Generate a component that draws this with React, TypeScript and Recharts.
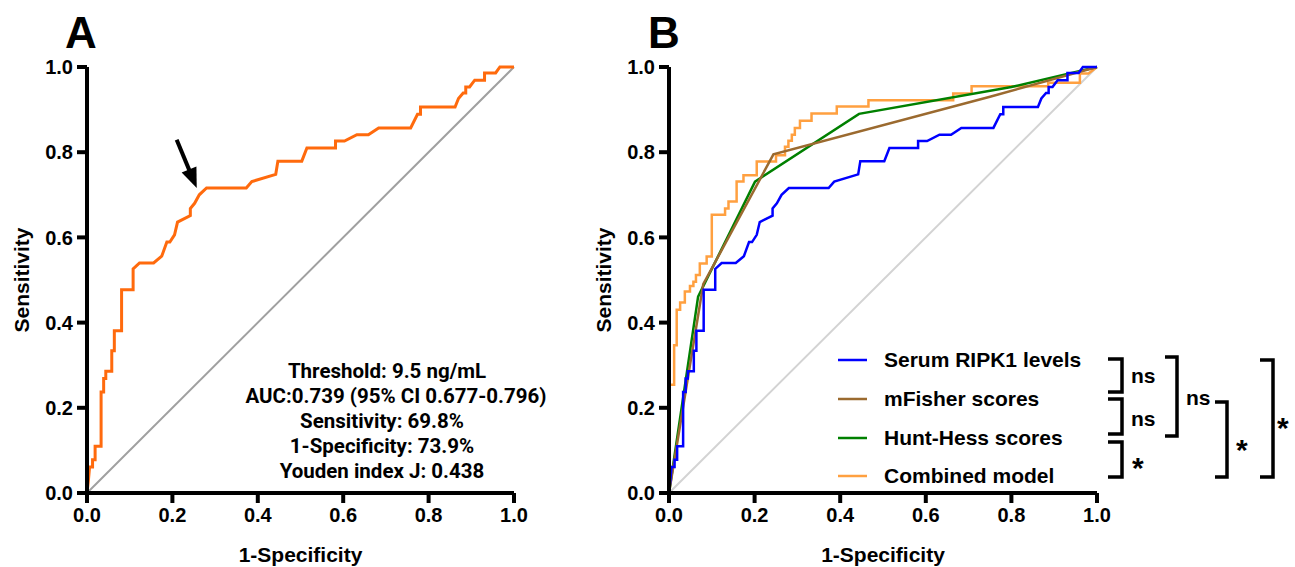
import React from 'react';
import { LineChart, Line, XAxis, YAxis, ReferenceLine, Legend, Customized } from 'recharts';

const axisTicks = [0, 0.2, 0.4, 0.6, 0.8, 1.0];

// Serum RIPK1 ROC curve (1-specificity, sensitivity)
const ripk1Fpr = [0, 0.003, 0.006, 0.013, 0.013, 0.019, 0.019, 0.033, 0.033, 0.039, 0.039, 0.044, 0.044, 0.058, 0.058, 0.064, 0.064, 0.081, 0.081, 0.108, 0.108, 0.123, 0.156, 0.175, 0.187, 0.194, 0.205, 0.212, 0.242, 0.242, 0.252, 0.263, 0.280, 0.373, 0.386, 0.442, 0.447, 0.503, 0.515, 0.582, 0.582, 0.603, 0.632, 0.659, 0.683, 0.758, 0.774, 0.781, 0.781, 0.862, 0.870, 0.881, 0.887, 0.887, 0.896, 0.908, 0.931, 0.931, 0.957, 0.967, 1.0];
const ripk1Tpr = [0, 0.027, 0.061, 0.061, 0.078, 0.078, 0.110, 0.110, 0.237, 0.237, 0.269, 0.269, 0.286, 0.286, 0.334, 0.334, 0.381, 0.381, 0.477, 0.477, 0.526, 0.540, 0.540, 0.556, 0.589, 0.589, 0.606, 0.636, 0.651, 0.668, 0.680, 0.700, 0.716, 0.716, 0.731, 0.748, 0.779, 0.779, 0.810, 0.810, 0.826, 0.826, 0.841, 0.841, 0.857, 0.857, 0.889, 0.889, 0.906, 0.906, 0.926, 0.939, 0.939, 0.953, 0.953, 0.969, 0.969, 0.986, 0.986, 1.0, 1.0];

// mFisher scores ROC
const mFisherFpr = [0, 0.08, 0.244, 0.75, 1.0];
const mFisherTpr = [0, 0.49, 0.795, 0.93, 1.0];

// Hunt-Hess scores ROC
const huntHessFpr = [0, 0.068, 0.201, 0.444, 0.80, 1.0];
const huntHessTpr = [0, 0.461, 0.731, 0.89, 0.953, 1.0];

// Combined model ROC
const combinedFpr = [0, 0, 0.012, 0.012, 0.018, 0.018, 0.026, 0.026, 0.037, 0.037, 0.049, 0.049, 0.057, 0.057, 0.063, 0.063, 0.072, 0.072, 0.088, 0.088, 0.100, 0.100, 0.131, 0.131, 0.139, 0.139, 0.158, 0.158, 0.174, 0.174, 0.205, 0.205, 0.250, 0.250, 0.271, 0.271, 0.279, 0.279, 0.287, 0.287, 0.294, 0.294, 0.306, 0.306, 0.333, 0.333, 0.392, 0.392, 0.466, 0.466, 0.664, 0.664, 0.707, 0.707, 0.886, 0.886, 0.960, 0.960, 0.980, 1.0];
const combinedTpr = [0, 0.254, 0.254, 0.347, 0.347, 0.430, 0.430, 0.447, 0.447, 0.473, 0.473, 0.486, 0.486, 0.496, 0.496, 0.512, 0.512, 0.539, 0.539, 0.555, 0.555, 0.653, 0.653, 0.668, 0.668, 0.684, 0.684, 0.731, 0.731, 0.746, 0.746, 0.778, 0.778, 0.793, 0.793, 0.813, 0.813, 0.827, 0.827, 0.841, 0.841, 0.857, 0.857, 0.874, 0.874, 0.891, 0.891, 0.907, 0.907, 0.922, 0.922, 0.938, 0.938, 0.955, 0.955, 0.963, 0.963, 0.985, 0.985, 1.0];

const seriesNames = ['Serum RIPK1 levels', 'mFisher scores', 'Hunt-Hess scores', 'Combined model'];
const seriesColors = ['#0000FF', '#9B6A2F', '#008000', '#FFA040'];

const annotationLines = ['Threshold: 9.5 ng/mL', 'AUC:0.739 (95% CI 0.677-0.796)', 'Sensitivity: 69.8%', '1-Specificity: 73.9%', 'Youden index J: 0.438'];

const zip = (xs: number[], ys: number[]) => xs.map((x, i) => ({ x, y: ys[i] }));

const ripk1Data = zip(ripk1Fpr, ripk1Tpr);
const mFisherData = zip(mFisherFpr, mFisherTpr);
const huntHessData = zip(huntHessFpr, huntHessTpr);
const combinedData = zip(combinedFpr, combinedTpr);

const SANS = '"Liberation Sans", Arial, Helvetica, sans-serif';
const DIN = 'Roboto, "Liberation Sans", sans-serif';

const tickStyle = { fill: '#000', fontSize: 20, fontWeight: 700, fontFamily: SANS };

const ArrowShape = (props: any) => {
  const { x1, y1, x2, y2 } = props;
  if ([x1, y1, x2, y2].some((v) => typeof v !== 'number' || isNaN(v))) return <g />;
  const dx = x2 - x1;
  const dy = y2 - y1;
  const len = Math.hypot(dx, dy) || 1;
  const ux = dx / len;
  const uy = dy / len;
  const headLen = 20;
  const headW = 8;
  const bx = x2 - ux * headLen;
  const by = y2 - uy * headLen;
  const px = -uy;
  const py = ux;
  return (
    <g>
      <line x1={x1} y1={y1} x2={bx + ux * 2} y2={by + uy * 2} stroke="#000" strokeWidth={4} />
      <polygon points={`${x2},${y2} ${bx + px * headW},${by + py * headW} ${bx - px * headW},${by - py * headW}`} fill="#000" />
    </g>
  );
};

const PanelLabelA = () => (
  <g>
    <text x={65} y={48} fontFamily={SANS} fontWeight={700} fontSize={44} fill="#000">A</text>
    {annotationLines.map((t, i) => (
      <text key={t} x={[387, 396, 382, 382, 382][i]} y={[378, 403, 428, 453, 478][i]} textAnchor="middle" fontFamily={DIN} fontWeight={700} fontSize={20.5} fill="#000">{t}</text>
    ))}
  </g>
);

const OFFB = 582;
const Brackets = () => {
  const br = (xh: number, xv: number, y1: number, y2: number, key: string) => (
    <path key={key} d={`M${xh - OFFB},${y1} H${xv - OFFB} V${y2} H${xh - OFFB}`} fill="none" stroke="#000" strokeWidth={3.5} />
  );
  const txt = { fontFamily: SANS, fontWeight: 700, fill: '#000' } as any;
  return (
    <g>
      <text x={66} y={48} fontFamily={SANS} fontWeight={700} fontSize={44} fill="#000">B</text>
      {br(1108, 1122, 359, 392, 'b1')}
      {br(1108, 1122, 399, 434, 'b2')}
      {br(1108, 1122, 442, 477, 'b3')}
      {br(1165, 1177, 357, 436, 'b4')}
      {br(1215, 1227, 402, 477, 'b5')}
      {br(1260, 1273, 360, 477, 'b6')}
      <text x={1131 - OFFB} y={383} fontSize={21} {...txt}>ns</text>
      <text x={1131 - OFFB} y={426} fontSize={21} {...txt}>ns</text>
      <text x={1132 - OFFB} y={478} fontSize={30} {...txt}>*</text>
      <text x={1186 - OFFB} y={405} fontSize={21} {...txt}>ns</text>
      <text x={1236 - OFFB} y={460} fontSize={30} {...txt}>*</text>
      <text x={1277 - OFFB} y={438} fontSize={30} {...txt}>*</text>
    </g>
  );
};

const LegendContent = (props: any) => {
  const payload = (props.payload || []).slice().sort((a: any, b: any) => seriesNames.indexOf(a.value) - seriesNames.indexOf(b.value));
  return (
    <div style={{ display: 'flex', flexDirection: 'column' }}>
      {payload.map((e: any) => (
        <div key={e.value} style={{ height: 38.7, display: 'flex', alignItems: 'center' }}>
          <svg width={30} height={4} style={{ display: 'block' }}>
            <line x1={0} y1={2} x2={29} y2={2} stroke={e.color} strokeWidth={2.5} />
          </svg>
          <span style={{ marginLeft: 16, fontFamily: SANS, fontWeight: 700, fontSize: 21, color: '#000', whiteSpace: 'nowrap' }}>{e.value}</span>
        </div>
      ))}
    </div>
  );
};

const axisCommon = {
  type: 'number' as const,
  domain: [0, 1] as [number, number],
  ticks: axisTicks,
  tickFormatter: (v: number) => v.toFixed(1),
  axisLine: { stroke: '#000', strokeWidth: 4 },
  tickLine: { stroke: '#000', strokeWidth: 4 },
  tick: tickStyle,
  interval: 0 as const,
};

const xLabel = { value: '1-Specificity', position: 'insideBottom' as const, offset: 5, fill: '#000', fontSize: 21, fontWeight: 700, fontFamily: SANS };
const yLabel = { value: 'Sensitivity', angle: -90, position: 'insideLeft' as const, offset: 22, fill: '#000', fontSize: 21, fontWeight: 700, fontFamily: SANS, style: { textAnchor: 'middle' } };

export default function App() {
  return (
    <div style={{ position: 'absolute', left: 0, top: 0, width: 1295, height: 567, background: '#fff' }}>
      <div style={{ position: 'absolute', left: 0, top: 0 }}>
        <LineChart width={560} height={567} margin={{ top: 67, right: 46, bottom: 0, left: 0 }}>
          <XAxis dataKey="x" {...axisCommon} height={74} tickSize={10} tickMargin={5} label={xLabel} />
          <YAxis dataKey="y" {...axisCommon} width={87} tickSize={10} tickMargin={4} label={yLabel} />
          <ReferenceLine segment={[{ x: 0, y: 0 }, { x: 1, y: 1 }]} stroke="#A0A0A0" strokeWidth={2} />
          <Line data={ripk1Data} dataKey="y" name="Serum RIPK1 levels" type="linear" stroke="#FF6A0D" strokeWidth={3} dot={false} activeDot={false} isAnimationActive={false} />
          <ReferenceLine segment={[{ x: 0.21, y: 0.829 }, { x: 0.257, y: 0.716 }]} shape={ArrowShape} />
          <Customized component={PanelLabelA} />
        </LineChart>
      </div>
      <div style={{ position: 'absolute', left: OFFB, top: 0 }}>
        <LineChart width={713} height={567} margin={{ top: 67, right: 198, bottom: 0, left: 0 }}>
          <XAxis dataKey="x" {...axisCommon} height={74} tickSize={10} tickMargin={5} label={xLabel} />
          <YAxis dataKey="y" {...axisCommon} width={87} tickSize={10} tickMargin={4} label={yLabel} />
          <ReferenceLine segment={[{ x: 0, y: 0 }, { x: 1, y: 1 }]} stroke="#D3D3D3" strokeWidth={2} />
          <Line data={combinedData} dataKey="y" name={seriesNames[3]} type="linear" stroke={seriesColors[3]} strokeWidth={2.5} dot={false} activeDot={false} isAnimationActive={false} />
          <Line data={huntHessData} dataKey="y" name={seriesNames[2]} type="linear" stroke={seriesColors[2]} strokeWidth={2.5} dot={false} activeDot={false} isAnimationActive={false} />
          <Line data={mFisherData} dataKey="y" name={seriesNames[1]} type="linear" stroke={seriesColors[1]} strokeWidth={2.5} dot={false} activeDot={false} isAnimationActive={false} />
          <Line data={ripk1Data} dataKey="y" name={seriesNames[0]} type="linear" stroke={seriesColors[0]} strokeWidth={2.5} dot={false} activeDot={false} isAnimationActive={false} />
          <Legend layout="horizontal" verticalAlign="middle" align="center" content={LegendContent} wrapperStyle={{ left: 838 - OFFB, top: 341, width: 260 }} />
          <Customized component={Brackets} />
        </LineChart>
      </div>
    </div>
  );
}
